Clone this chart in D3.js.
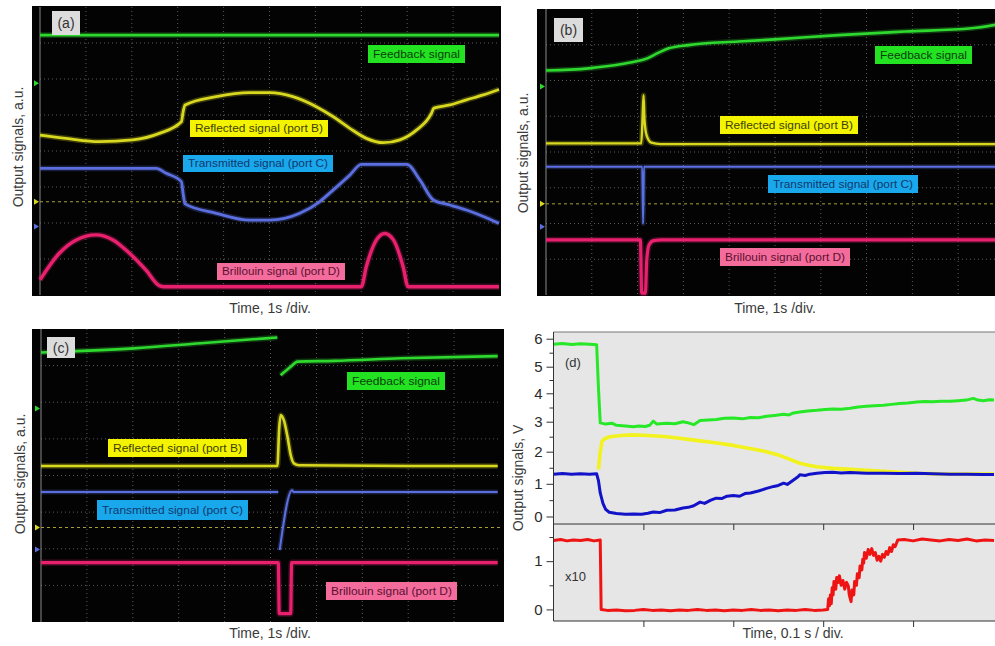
<!DOCTYPE html>
<html lang="en">
<head>
<meta charset="UTF-8">
<title>Output signals</title>
<script src="https://d3js.org/d3.v7.min.js"></script>
<style>
  body { margin: 0; background: #fff; }
  svg { display: block; font-family: Arial, "Liberation Sans", sans-serif; }
  .axis-title { font-size: 14px; fill: #3a3a3a; }
  .tag { font-size: 10.5px; }
  .dax text { font-size: 15px; fill: #2a2a2a; }
  .dax path, .dax line { stroke: #333; }
</style>
</head>
<body>
<svg id="chart" width="995" height="646"></svg>
<script>
// scope panels (a)-(c): x in divisions 0..10, y in divisions 0..8
var aFeedback = [[0, 7.22], [5, 7.22], [10, 7.22]];
var aReflected = [[0, 4.44], [0.57, 4.35], [1.29, 4.26], [2.02, 4.31], [2.6, 4.49], [3.08, 4.81], [3.12, 5.1],
  [3.16, 5.28], [3.84, 5.51], [4.57, 5.62], [5.0, 5.62], [5.51, 5.51], [6.02, 5.23], [6.39, 4.95], [6.75, 4.63],
  [7.11, 4.35], [7.48, 4.23], [7.84, 4.31], [8.2, 4.58], [8.53, 5.05], [8.58, 5.19], [8.93, 5.28], [9.29, 5.42],
  [9.66, 5.56], [10, 5.71]];
var aTransmitted = [[0, 3.52], [1.5, 3.52], [2.53, 3.52], [2.75, 3.38], [3.08, 3.15], [3.12, 2.8], [3.16, 2.53],
  [3.84, 2.27], [4.57, 2.08], [5.0, 2.08], [5.66, 2.27], [6.09, 2.59], [6.39, 2.92], [6.75, 3.33], [7.0, 3.63],
  [7.99, 3.63], [8.28, 3.19], [8.57, 2.64], [8.93, 2.5], [9.29, 2.36], [9.66, 2.18], [10, 1.99]];
var aBrillouin = [[0, 0.42], [0.42, 1.16], [0.79, 1.53], [1.22, 1.67], [1.59, 1.53], [1.95, 1.16], [2.31, 0.69],
  [2.6, 0.26], [2.7, 0.23], [5, 0.23], [7.0, 0.23], [7.11, 0.79], [7.33, 1.53], [7.51, 1.71], [7.7, 1.53],
  [7.91, 0.79], [8.02, 0.23], [9, 0.23], [10, 0.23]];

var bFeedback = [[0, 6.28], [0.93, 6.34], [1.66, 6.46], [2.02, 6.55], [2.17, 6.6], [2.46, 6.78], [2.68, 6.9],
  [3.11, 6.99], [4.2, 7.09], [5.0, 7.15], [6.39, 7.27], [7.84, 7.37], [9.29, 7.46], [10, 7.6]];
var bReflected = [[0, 4.24], [2.08, 4.24], [2.11, 5.0], [2.13, 5.59], [2.15, 4.9], [2.2, 4.45], [2.3, 4.26],
  [2.5, 4.22], [6, 4.22], [10, 4.22]];
var bTransmitted = [[0, 3.59], [2.1, 3.59], [2.12, 2.0], [2.14, 3.59], [6, 3.59], [10, 3.59]];
var bBrillouin = [[0, 1.54], [2.06, 1.54], [2.09, 0.05], [2.17, 0.05], [2.2, 0.98], [2.25, 1.4], [2.35, 1.52],
  [2.53, 1.54], [6, 1.54], [10, 1.54]];

var cFeedback = [[0, 7.36], [2.02, 7.47], [3.48, 7.61], [5.15, 7.77], [5.18, null], [5.22, 6.74], [5.44, 6.97],
  [5.59, 7.11], [6.39, 7.13], [7.84, 7.2], [9.95, 7.26]];
var cReflected = [[0, 4.26], [5.15, 4.26], [5.19, 5.3], [5.22, 5.65], [5.29, 5.51], [5.37, 5.06], [5.44, 4.56],
  [5.51, 4.33], [5.62, 4.28], [8, 4.26], [9.95, 4.26]];
var cTransmitted = [[0, 3.55], [5.17, 3.55], [5.18, null], [5.2, 1.96], [5.47, 3.6], [5.5, 3.55], [8, 3.55],
  [9.95, 3.55]];
var cBrillouin = [[0, 1.62], [5.17, 1.62], [5.19, 0.23], [5.44, 0.23], [5.46, 1.62], [8, 1.62], [9.95, 1.62]];

// reference (dashed) level and left-edge markers, in divisions
var aRefLevel = 2.59, bRefLevel = 2.55, cRefLevel = 2.58;
var aMarkers = [5.88, 2.59, 1.9];
var bMarkers = [5.83, 2.55, 1.91];
var cMarkers = [5.83, 2.58, 1.98];

var signalNames = ["Feedback signal", "Reflected signal (port B)", "Transmitted signal (port C)", "Brillouin signal (port D)"];

// panel (d): x in 0.1 s divisions, y in volts
var dTicksTop = [0, 1, 2, 3, 4, 5, 6];
var dTicksBot = [0, 1];
var dGreen = [[0, 5.8], [0.1, 5.83], [0.2, 5.79], [0.3, 5.82], [0.4, 5.8], [0.48, 5.78], [0.5, 4.2], [0.52, 2.96],
  [0.58, 2.92], [0.65, 2.95], [0.7, 2.88], [0.8, 2.86], [0.89, 2.83], [0.95, 2.86], [1.02, 2.84], [1.07, 2.88],
  [1.11, 3.02], [1.15, 2.92], [1.26, 2.95], [1.35, 2.93], [1.44, 3.0], [1.5, 2.96], [1.56, 2.9], [1.63, 3.04],
  [1.72, 3.06], [1.81, 3.08], [1.9, 3.12], [2.0, 3.13], [2.1, 3.1], [2.19, 3.15], [2.28, 3.14], [2.37, 3.19],
  [2.46, 3.22], [2.56, 3.26], [2.62, 3.24], [2.67, 3.31], [2.74, 3.34], [2.83, 3.38], [2.93, 3.4], [3.02, 3.43],
  [3.11, 3.45], [3.2, 3.44], [3.3, 3.47], [3.39, 3.52], [3.48, 3.54], [3.57, 3.56], [3.67, 3.58], [3.76, 3.61],
  [3.85, 3.64], [3.94, 3.66], [4.04, 3.69], [4.13, 3.71], [4.22, 3.7], [4.31, 3.72], [4.41, 3.72], [4.5, 3.74],
  [4.59, 3.76], [4.67, 3.82], [4.72, 3.76], [4.78, 3.74], [4.85, 3.77], [4.9, 3.76]];
var dYellow = [[0.5, 1.45], [0.52, 2.0], [0.54, 2.35], [0.58, 2.45], [0.63, 2.5], [0.75, 2.54], [0.89, 2.56],
  [1.0, 2.55], [1.1, 2.53], [1.26, 2.5], [1.4, 2.45], [1.5, 2.41], [1.63, 2.36], [1.8, 2.3], [2.0, 2.21],
  [2.2, 2.1], [2.37, 2.0], [2.5, 1.9], [2.63, 1.76], [2.74, 1.64], [2.85, 1.57], [2.93, 1.53], [3.11, 1.48],
  [3.3, 1.45], [3.48, 1.42], [3.67, 1.39], [3.85, 1.36], [4.05, 1.33], [4.3, 1.31], [4.9, 1.3]];
var dBlue = [[0, 1.3], [0.1, 1.32], [0.2, 1.3], [0.3, 1.31], [0.4, 1.3], [0.48, 1.31], [0.5, 1.1], [0.52, 0.72],
  [0.55, 0.4], [0.58, 0.22], [0.62, 0.13], [0.7, 0.09], [0.8, 0.07], [0.89, 0.08], [0.98, 0.07], [1.05, 0.1],
  [1.11, 0.14], [1.18, 0.12], [1.26, 0.19], [1.35, 0.2], [1.44, 0.26], [1.5, 0.28], [1.56, 0.33], [1.63, 0.44],
  [1.68, 0.4], [1.75, 0.5], [1.81, 0.56], [1.87, 0.55], [1.93, 0.62], [2.0, 0.64], [2.07, 0.62], [2.13, 0.7],
  [2.19, 0.72], [2.28, 0.78], [2.37, 0.86], [2.45, 0.92], [2.5, 0.95], [2.56, 1.02], [2.6, 0.98], [2.67, 1.12],
  [2.72, 1.22], [2.74, 1.28], [2.8, 1.26], [2.85, 1.3], [2.93, 1.33], [3.02, 1.35], [3.11, 1.36], [3.2, 1.34],
  [3.3, 1.35], [3.48, 1.33], [3.67, 1.33], [3.85, 1.32], [4.04, 1.33], [4.22, 1.31], [4.41, 1.3], [4.59, 1.3],
  [4.78, 1.29], [4.9, 1.29]];
var dRed = [[0, 1.43], [0.08, 1.45], [0.15, 1.42], [0.22, 1.44], [0.3, 1.43], [0.38, 1.45], [0.45, 1.42],
  [0.52, 1.44], [0.53, 0.0], [0.6, -0.02], [0.7, -0.01], [0.8, -0.03], [0.9, -0.02], [1.0, 0.0], [1.1, -0.02],
  [1.2, -0.01], [1.3, -0.03], [1.4, -0.01], [1.5, -0.02], [1.6, 0.0], [1.7, -0.02], [1.8, -0.01], [1.9, -0.03],
  [2.0, -0.01], [2.1, -0.02], [2.2, 0.0], [2.3, -0.02], [2.4, -0.01], [2.5, -0.03], [2.6, -0.01], [2.7, -0.02],
  [2.8, 0.0], [2.9, -0.02], [3.0, -0.01], [3.05, 0.0], [3.06, 0.22], [3.07, 0.08], [3.08, 0.3], [3.09, 0.12],
  [3.1, 0.45], [3.11, 0.3], [3.12, 0.58], [3.14, 0.42], [3.15, 0.66], [3.17, 0.56], [3.18, 0.7], [3.2, 0.5],
  [3.22, 0.6], [3.24, 0.42], [3.26, 0.56], [3.28, 0.48], [3.29, 0.3], [3.31, 0.16], [3.32, 0.4], [3.34, 0.3],
  [3.35, 0.58], [3.37, 0.5], [3.38, 0.74], [3.4, 0.66], [3.41, 0.9], [3.43, 0.82], [3.44, 1.04], [3.45, 0.96],
  [3.46, 1.18], [3.48, 1.06], [3.5, 1.24], [3.52, 1.14], [3.54, 1.26], [3.56, 1.12], [3.58, 1.18], [3.6, 1.02],
  [3.62, 1.1], [3.64, 1.0], [3.66, 1.14], [3.68, 1.08], [3.7, 1.2], [3.72, 1.14], [3.74, 1.28], [3.76, 1.2],
  [3.78, 1.34], [3.8, 1.3], [3.83, 1.44], [3.9, 1.45], [4.0, 1.42], [4.1, 1.46], [4.2, 1.44], [4.3, 1.42],
  [4.4, 1.45], [4.5, 1.43], [4.6, 1.46], [4.7, 1.42], [4.8, 1.44], [4.9, 1.43]];

var svg = d3.select("#chart");

var traceColors = ["#2fd82f", "#d8d820", "#5b6fe0", "#e8206e"];
var boxFill = ["#22e222", "#f4f400", "#19a8ec", "#f46c9c"];
var boxText = ["#0a400a", "#404000", "#10386c", "#5a1030"];
var markerColors = ["#2fd82f", "#d8d820", "#5b6fe0"];

var scopes = [
  { id: "a", bg: [32, 6, 501, 296], grid: [40, 7, 499, 295], traces: [aFeedback, aReflected, aTransmitted, aBrillouin],
    widths: [2.6, 2.8, 2.8, 3.4], ref: aRefLevel, markers: aMarkers,
    tag: [52, 11, 28, 24], boxes: [[368, 45, 97, 18], [190, 120, 138, 17], [183, 155, 150, 17], [217, 263, 128, 17]],
    ylab: [18, 147], xlab: [270, 313] },
  { id: "b", bg: [537, 9, 995, 296], grid: [546, 9, 1004, 295], traces: [bFeedback, bReflected, bTransmitted, bBrillouin],
    widths: [2.6, 2.4, 2.0, 3.2], ref: bRefLevel, markers: bMarkers,
    tag: [554, 18, 29, 24], boxes: [[875, 46, 97, 18], [720, 116, 138, 18], [768, 175, 150, 18], [720, 248, 130, 18]],
    ylab: [523, 153], xlab: [775, 313] },
  { id: "c", bg: [32, 329, 504, 622], grid: [41, 329, 500, 622], traces: [cFeedback, cReflected, cTransmitted, cBrillouin],
    widths: [2.6, 2.6, 2.0, 3.2], ref: cRefLevel, markers: cMarkers,
    tag: [47, 337, 28, 21], boxes: [[347, 372, 98, 18], [108, 439, 139, 18], [97, 500, 151, 20], [326, 582, 131, 18]],
    ylab: [20, 474], xlab: [270, 638] }
];

scopes.forEach(function(p) {
  var x = d3.scaleLinear().domain([0, 10]).range([p.grid[0], p.grid[2]]);
  var y = d3.scaleLinear().domain([0, 8]).range([p.grid[3], p.grid[1]]);

  svg.append("clipPath").attr("id", "clip-" + p.id)
    .append("rect")
    .attr("x", p.bg[0]).attr("y", p.bg[1])
    .attr("width", p.bg[2] - p.bg[0]).attr("height", p.bg[3] - p.bg[1]);

  var g = svg.append("g").attr("clip-path", "url(#clip-" + p.id + ")");

  g.append("rect")
    .attr("x", p.bg[0]).attr("y", p.bg[1])
    .attr("width", p.bg[2] - p.bg[0]).attr("height", p.bg[3] - p.bg[1])
    .attr("fill", "#030303");

  // dotted graticule
  g.selectAll(".vg").data(d3.range(1, 10)).enter().append("line")
    .attr("x1", d => x(d)).attr("x2", d => x(d))
    .attr("y1", y(8)).attr("y2", y(0))
    .attr("stroke", "#5a5a5a").attr("stroke-width", 1).attr("stroke-dasharray", "1,3");
  g.selectAll(".hg").data(d3.range(1, 8)).enter().append("line")
    .attr("x1", x(0)).attr("x2", x(10))
    .attr("y1", d => y(d)).attr("y2", d => y(d))
    .attr("stroke", "#5a5a5a").attr("stroke-width", 1).attr("stroke-dasharray", "1,3");
  g.append("line")
    .attr("x1", x(0)).attr("x2", x(0)).attr("y1", y(8)).attr("y2", y(0))
    .attr("stroke", "#8a8a8a").attr("stroke-width", 1);

  // reference level
  g.append("line")
    .attr("x1", x(0)).attr("x2", x(10))
    .attr("y1", y(p.ref)).attr("y2", y(p.ref))
    .attr("stroke", "#a8a030").attr("stroke-width", 1).attr("stroke-dasharray", "3,3");

  // left markers
  g.selectAll(".mk").data(p.markers).enter().append("path")
    .attr("d", d => "M" + (x(0) - 6) + "," + (y(d) - 3) + "L" + (x(0) - 1) + "," + y(d) + "L" + (x(0) - 6) + "," + (y(d) + 3) + "Z")
    .attr("fill", (d, i) => markerColors[i]);

  var line = d3.line()
    .defined(d => d[1] != null)
    .x(d => x(d[0])).y(d => y(d[1]))
    .curve(d3.curveMonotoneX);

  p.traces.forEach(function(t, i) {
    g.append("path").datum(t).attr("d", line)
      .attr("fill", "none").attr("stroke", traceColors[i])
      .attr("stroke-width", p.widths[i] + 3).attr("opacity", 0.25);
    g.append("path").datum(t).attr("d", line)
      .attr("fill", "none").attr("stroke", traceColors[i])
      .attr("stroke-width", p.widths[i]);
  });

  // signal name boxes
  p.boxes.forEach(function(b, i) {
    g.append("rect").attr("x", b[0]).attr("y", b[1]).attr("width", b[2]).attr("height", b[3])
      .attr("fill", boxFill[i]);
    g.append("text").attr("class", "tag")
      .attr("x", b[0] + b[2] / 2).attr("y", b[1] + b[3] / 2 + 3.8)
      .attr("text-anchor", "middle").attr("fill", boxText[i])
      .attr("textLength", b[2] - 10).attr("lengthAdjust", "spacingAndGlyphs")
      .text(signalNames[i]);
  });

  // panel tag
  g.append("rect").attr("x", p.tag[0]).attr("y", p.tag[1]).attr("width", p.tag[2]).attr("height", p.tag[3])
    .attr("fill", "#dcdcdc");
  g.append("text").attr("x", p.tag[0] + p.tag[2] / 2).attr("y", p.tag[1] + p.tag[3] / 2 + 5)
    .attr("text-anchor", "middle").attr("font-size", 14).attr("fill", "#333")
    .text("(" + p.id + ")");

  svg.append("text").attr("class", "axis-title")
    .attr("transform", "translate(" + p.ylab[0] + "," + p.ylab[1] + ") rotate(-90)")
    .attr("text-anchor", "middle").attr("dy", "0.35em")
    .text("Output signals, a.u.");
  svg.append("text").attr("class", "axis-title")
    .attr("x", p.xlab[0]).attr("y", p.xlab[1])
    .attr("text-anchor", "middle")
    .text("Time, 1s /div.");
});

// ---- panel (d)
var dX = d3.scaleLinear().domain([0, 4.9]).range([553.5, 994]);
// the printed axis is slightly uneven, so the upper scale follows its tick positions
var dYTop = d3.scaleLinear().domain(dTicksTop).range([516.5, 483.8, 451.7, 421.7, 393.3, 366.7, 338.7]);
var dYBot = d3.scaleLinear().domain([-0.24, 1.77]).range([621, 524]);
var topMin = -0.23, topMax = 6.24;

var gd = svg.append("g");
svg.append("clipPath").attr("id", "clip-d").append("rect")
  .attr("x", dX(0)).attr("y", dYTop(topMax)).attr("width", 995 - dX(0)).attr("height", dYBot(-0.24) - dYTop(topMax));

gd.append("rect")
  .attr("x", dX(0)).attr("y", dYTop(topMax))
  .attr("width", 995 - dX(0)).attr("height", dYBot(-0.24) - dYTop(topMax))
  .attr("fill", "#e6e6e6");

var dLineTop = d3.line().x(d => dX(d[0])).y(d => dYTop(d[1]));
var dLineBot = d3.line().x(d => dX(d[0])).y(d => dYBot(d[1]));
var gp = gd.append("g").attr("clip-path", "url(#clip-d)");

[[dYellow, "#f2f21e", 3.6], [dGreen, "#26e826", 3], [dBlue, "#1212c8", 3]].forEach(function(s) {
  gp.append("path").datum(s[0]).attr("d", dLineTop)
    .attr("fill", "none").attr("stroke", s[1]).attr("stroke-width", s[2]).attr("stroke-linejoin", "round");
});
gp.append("path").datum(dRed).attr("d", dLineBot)
  .attr("fill", "none").attr("stroke", "#ee1414").attr("stroke-width", 3).attr("stroke-linejoin", "round");

// frame lines
gd.append("line").attr("x1", dX(0)).attr("x2", 995).attr("y1", dYTop(topMax)).attr("y2", dYTop(topMax))
  .attr("stroke", "#777").attr("stroke-width", 1.2);

// axes
gd.append("g").attr("class", "dax")
  .attr("transform", "translate(" + dX(0) + ",0)")
  .call(d3.axisLeft(dYTop).tickValues(dTicksTop).tickSize(7).tickPadding(4).tickFormat(d3.format("d")))
  .call(g => g.select(".domain").attr("d", "M0," + dYTop(topMax) + "V" + dYTop(topMin)));
gd.append("g").attr("class", "dax")
  .attr("transform", "translate(" + dX(0) + ",0)")
  .call(d3.axisLeft(dYTop).tickValues(d3.range(0.5, 6, 1)).tickSize(4).tickFormat(""))
  .call(g => g.select(".domain").remove());
gd.append("g").attr("class", "dax")
  .attr("transform", "translate(" + dX(0) + ",0)")
  .call(d3.axisLeft(dYBot).tickValues(dTicksBot).tickSize(7).tickPadding(4).tickFormat(d3.format("d")))
  .call(g => g.select(".domain").attr("d", "M0," + dYBot(1.77) + "V" + dYBot(-0.24)));
gd.append("g").attr("class", "dax")
  .attr("transform", "translate(" + dX(0) + ",0)")
  .call(d3.axisLeft(dYBot).tickValues([0.5, 1.5]).tickSize(4).tickFormat(""))
  .call(g => g.select(".domain").remove());

[dYTop(topMin), dYBot(-0.24)].forEach(function(yy) {
  gd.append("g").attr("class", "dax")
    .attr("transform", "translate(0," + yy + ")")
    .call(d3.axisBottom(dX).tickValues([1, 2, 3, 4]).tickSize(6).tickFormat(""))
    .call(g => g.select(".domain").attr("d", "M" + dX(0) + ",0H995"));
});

gd.append("text").attr("x", 565).attr("y", 367).attr("font-size", 13).attr("fill", "#333").text("(d)");
gd.append("text").attr("x", 565).attr("y", 581).attr("font-size", 13).attr("fill", "#333").text("x10");

svg.append("text").attr("class", "axis-title")
  .attr("transform", "translate(518,478) rotate(-90)")
  .attr("text-anchor", "middle").attr("dy", "0.35em")
  .text("Output signals, V");
svg.append("text").attr("class", "axis-title")
  .attr("x", 793).attr("y", 638).attr("text-anchor", "middle")
  .text("Time, 0.1 s / div.");
</script>
</body>
</html>
